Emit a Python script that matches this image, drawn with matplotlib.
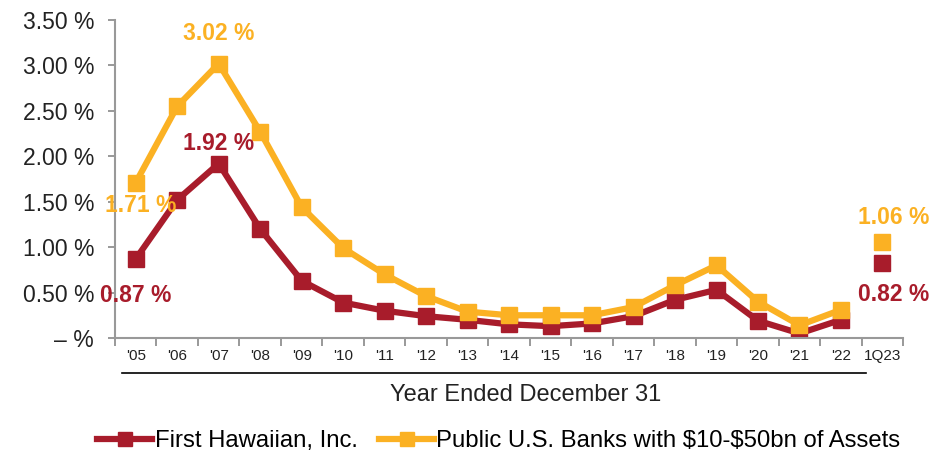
import matplotlib.pyplot as plt
from matplotlib.lines import Line2D
from matplotlib.ticker import FuncFormatter

plt.rcParams['font.family'] = ['Liberation Sans', 'DejaVu Sans']

years = ["'05", "'06", "'07", "'08", "'09", "'10", "'11", "'12", "'13", "'14",
         "'15", "'16", "'17", "'18", "'19", "'20", "'21", "'22", "1Q23"]
fhi = [0.87, 1.52, 1.92, 1.20, 0.63, 0.39, 0.30, 0.24, 0.20, 0.15,
       0.13, 0.16, 0.24, 0.42, 0.53, 0.19, 0.05, 0.20]
peers = [1.71, 2.55, 3.02, 2.27, 1.44, 0.99, 0.70, 0.46, 0.29, 0.25,
         0.25, 0.25, 0.34, 0.58, 0.80, 0.40, 0.14, 0.31]
fhi_q = 0.82
peers_q = 1.06

red = '#A81C2B'
gold = '#FBB123'

fig = plt.figure(figsize=(9.35, 4.51), dpi=100)
ax = fig.add_axes([0.123, 0.2506, 0.843, 0.705])

x = list(range(len(fhi)))
ax.plot(x, peers, color=gold, lw=4.5, marker='s', ms=11, zorder=3)
ax.plot(x, fhi, color=red, lw=4.5, marker='s', ms=11, zorder=2)
ax.plot([18], [peers_q], color=gold, marker='s', ms=11, ls='none')
ax.plot([18], [fhi_q], color=red, marker='s', ms=11, ls='none')

# value callouts
lbl = dict(fontsize=16.5, fontweight='bold', ha='center', va='center', zorder=5)
ax.text(2, peers[2] + 0.33, f'{peers[2]:.2f} %', color=gold, **lbl)
ax.text(2, fhi[2] + 0.22, f'{fhi[2]:.2f} %', color=red, **lbl)
ax.text(0.12, peers[0] - 0.25, f'{peers[0]:.2f} %', color=gold, **lbl)
ax.text(0.0, fhi[0] - 0.40, f'{fhi[0]:.2f} %', color=red, **lbl)
ax.text(18.27, peers_q + 0.27, f'{peers_q:.2f} %', color=gold, **lbl)
ax.text(18.27, fhi_q - 0.34, f'{fhi_q:.2f} %', color=red, **lbl)

ax.set_xlim(-0.5, 18.5)
ax.set_ylim(0, 3.5)
ax.set_yticks([0, 0.5, 1.0, 1.5, 2.0, 2.5, 3.0, 3.5])
ax.yaxis.set_major_formatter(FuncFormatter(
    lambda v, p: '\u2013 %' if v == 0 else f'{v:.2f} %'))
ax.tick_params(axis='y', labelsize=16.5, colors='#888888', labelcolor='#222222',
               length=5, width=1.2, pad=10)

ax.set_xticks([i - 0.5 for i in range(len(years) + 1)])
ax.set_xticklabels([])
ax.set_xticks(x + [18], minor=True)
ax.set_xticklabels(years, minor=True)
ax.tick_params(axis='x', which='major', length=6, width=1.2, colors='#888888')
ax.tick_params(axis='x', which='minor', length=0, labelsize=11,
               labelcolor='#222222', pad=8)

for s in ['top', 'right']:
    ax.spines[s].set_visible(False)
for s in ['left', 'bottom']:
    ax.spines[s].set_color('#999999')
    ax.spines[s].set_linewidth(1.5)

# underline for the annual period
fig.add_artist(Line2D([122 / 935, 866 / 935], [1 - 373 / 451] * 2,
                      color='black', lw=1.2))
fig.text(526 / 935, 1 - 395 / 451, 'Year Ended December 31', ha='center',
         va='center', fontsize=17, color='#222222')

handles = [Line2D([], [], color=red, lw=4.5, marker='s', ms=10),
           Line2D([], [], color=gold, lw=4.5, marker='s', ms=10)]
fig.legend(handles, ['First Hawaiian, Inc.', r'Public U.S. Banks with \$10-\$50bn of Assets'],
           loc='center', bbox_to_anchor=(499 / 935, 1 - 441 / 451), ncol=2, frameon=False,
           fontsize=17.2, handlelength=2.3, handletextpad=0.1, columnspacing=0.9)

fig.savefig('out.png', dpi=100)
